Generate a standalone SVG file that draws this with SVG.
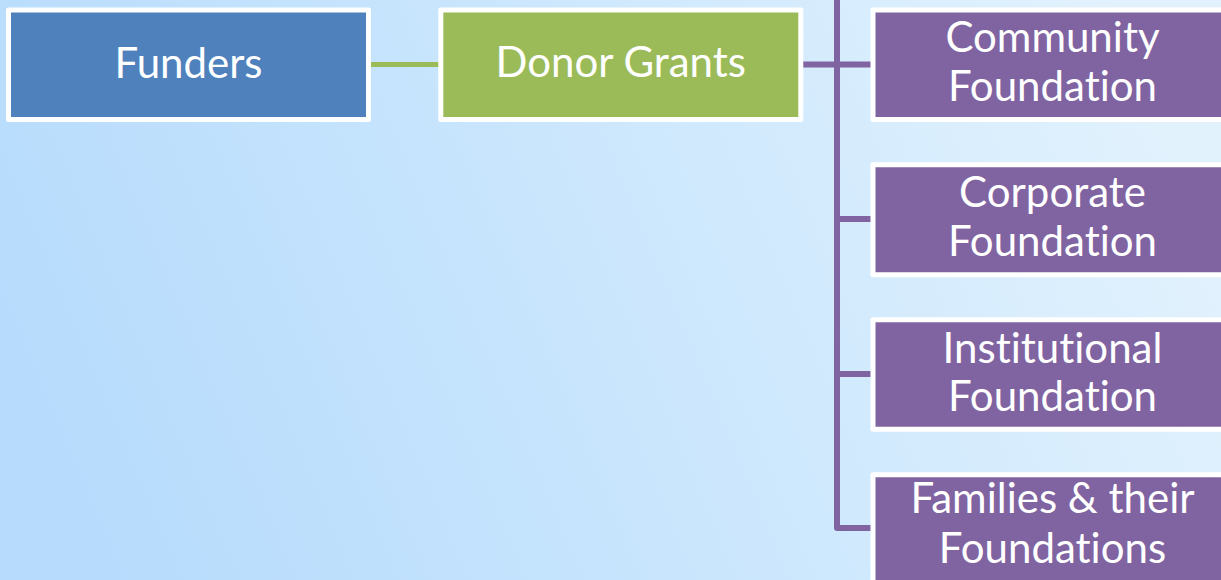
<svg xmlns="http://www.w3.org/2000/svg" width="1221" height="580" viewBox="0 0 1221 580">
  <defs>
    <linearGradient id="bg" x1="0" y1="0.6" x2="1" y2="0.4">
      <stop offset="0" stop-color="#b6dbfc"/>
      <stop offset="0.45" stop-color="#c8e5fd"/>
      <stop offset="1" stop-color="#e2f2fd"/>
    </linearGradient>
  </defs>
  <style>
    .box { stroke: #ffffff; stroke-width: 5; stroke-linejoin: round; }
    .blue { fill: #4f81bd; }
    .green { fill: #9bbb59; }
    .purple { fill: #8064a2; }
    .lbl { font-family: Lato, "Open Sans", "Liberation Sans", sans-serif; font-size: 42px; fill: #ffffff; text-anchor: middle; font-variant-ligatures: none; font-feature-settings: "liga" 0, "clig" 0; }
    .cg { stroke: #9bbb59; stroke-width: 5; fill: none; }
    .cp { stroke: #8064a2; stroke-width: 6; fill: none; stroke-linejoin: round; }
  </style>
  <rect x="0" y="0" width="1221" height="580" fill="url(#bg)"/>

  <g id="connectors">
    <line class="cg" x1="370" y1="64.5" x2="440" y2="64.5"/>
    <line class="cp" x1="802" y1="64.5" x2="872" y2="64.5"/>
    <path class="cp" d="M837 -5 V528 H872"/>
    <line class="cp" x1="837" y1="219" x2="872" y2="219"/>
    <line class="cp" x1="837" y1="374" x2="872" y2="374"/>
  </g>

  <g id="funders">
    <rect class="box blue" x="8.5" y="10" width="360" height="109.5"/>
    <text class="lbl" x="188.5" y="78.3">Funders</text>
  </g>
  <g id="donor-grants">
    <rect class="box green" x="440.8" y="10" width="360" height="109.5"/>
    <text class="lbl" x="620.8" y="77.3">Donor Grants</text>
  </g>
  <g id="community-foundation">
    <rect class="box purple" x="873" y="10" width="360" height="109.5"/>
    <text class="lbl" x="1052.5" y="52.3">Community</text>
    <text class="lbl" x="1052.5" y="101">Foundation</text>
  </g>
  <g id="corporate-foundation">
    <rect class="box purple" x="873" y="164.8" width="360" height="110"/>
    <text class="lbl" x="1052.5" y="207.3">Corporate</text>
    <text class="lbl" x="1052.5" y="256">Foundation</text>
  </g>
  <g id="institutional-foundation">
    <rect class="box purple" x="873" y="319.8" width="360" height="109.5"/>
    <text class="lbl" x="1052.5" y="362.7">Institutional</text>
    <text class="lbl" x="1052.5" y="411">Foundation</text>
  </g>
  <g id="families-foundations">
    <rect class="box purple" x="873" y="474.8" width="360" height="115"/>
    <text class="lbl" x="1052.5" y="512.7">Families &amp; their</text>
    <text class="lbl" x="1052.5" y="562.7">Foundations</text>
  </g>
</svg>
